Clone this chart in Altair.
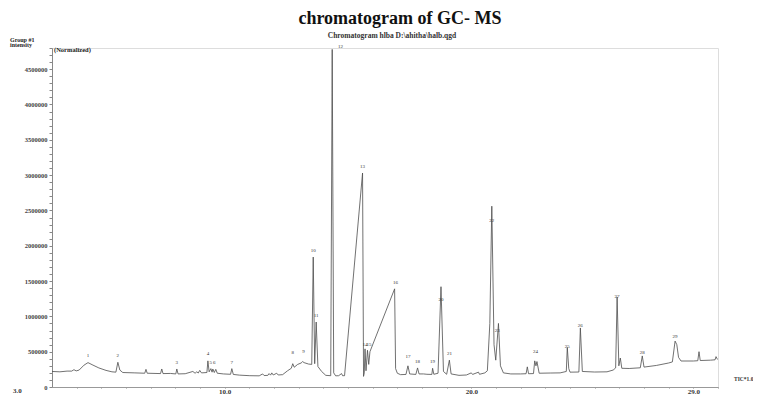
import altair as alt
import pandas as pd

# Retention time (min) and TIC intensity
times = [3.00, 3.32, 3.61, 3.80, 3.89, 3.98, 4.10, 4.30, 4.46, 4.66, 4.90, 5.19, 5.43, 5.59, 5.67, 5.75, 5.87,
         6.36, 6.76, 6.81, 6.86, 7.40, 7.45, 7.50, 7.80, 8.02, 8.06, 8.11, 8.40, 8.71, 8.80, 8.87, 8.93, 8.99,
         9.06, 9.28, 9.32, 9.37, 9.44, 9.49, 9.52, 9.58, 9.64, 9.70, 9.95, 10.24, 10.29, 10.35, 10.60, 11.02,
         11.40, 11.54, 11.60, 11.75, 11.80, 11.86, 11.91, 11.97, 12.11, 12.17, 12.35, 12.55, 12.70, 12.76,
         12.82, 12.96, 13.10, 13.16, 13.22, 13.40, 13.53, 13.59, 13.65, 13.71, 13.78, 13.93, 14.10, 14.30,
         14.36, 14.42, 14.50, 14.62, 14.74, 14.78, 14.86, 15.59, 15.63, 15.66, 15.69, 15.73, 15.79, 15.84,
         15.89, 16.89, 16.93, 17.00, 17.13, 17.35, 17.43, 17.50, 17.75, 17.82, 17.88, 18.06, 18.20, 18.40,
         18.43, 18.48, 18.65, 18.77, 18.87, 19.00, 19.11, 19.18, 19.50, 19.80, 20.00, 20.05, 20.29, 20.33,
         20.55, 20.65, 20.75, 20.83, 20.92, 20.99, 21.10, 21.18, 21.30, 21.60, 22.00, 22.22, 22.27, 22.32,
         22.52, 22.57, 22.62, 22.66, 22.75, 23.20, 23.60, 23.85, 23.89, 23.95, 24.00, 24.36, 24.42, 24.50,
         25.00, 25.50, 25.75, 25.85, 25.91, 25.98, 26.04, 26.10, 26.40, 26.85, 26.93, 27.00, 27.50, 28.00,
         28.15, 28.26, 28.33, 28.40, 28.50, 29.00, 29.18, 29.23, 29.28, 29.70, 29.88, 29.92, 29.98]
intensity = [220000, 215000, 225000, 225000, 245000, 228000, 240000, 310000, 345000, 310000, 270000, 235000,
             215000, 210000, 350000, 240000, 205000, 200000, 195000, 250000, 195000, 190000, 255000, 190000,
             192000, 185000, 255000, 185000, 188000, 220000, 195000, 215000, 198000, 235000, 200000, 205000,
             370000, 215000, 260000, 210000, 255000, 205000, 250000, 195000, 185000, 180000, 260000, 178000,
             168000, 160000, 158000, 185000, 162000, 165000, 190000, 168000, 200000, 170000, 195000, 170000,
             175000, 230000, 265000, 330000, 280000, 320000, 340000, 360000, 345000, 325000, 320000, 1840000,
             330000, 920000, 290000, 220000, 165000, 160000, 4780000, 200000, 158000, 160000, 190000, 160000,
             160000, 3030000, 150000, 200000, 540000, 230000, 520000, 320000, 500000, 1390000, 260000, 195000,
             175000, 178000, 300000, 185000, 178000, 270000, 185000, 185000, 180000, 178000, 265000, 180000,
             195000, 1420000, 220000, 180000, 380000, 185000, 165000, 170000, 200000, 178000, 210000, 180000,
             200000, 230000, 900000, 2560000, 600000, 380000, 900000, 300000, 200000, 185000, 185000, 188000,
             285000, 188000, 190000, 370000, 300000, 360000, 195000, 198000, 200000, 220000, 560000, 260000,
             210000, 212000, 836000, 220000, 212000, 215000, 240000, 270000, 1275000, 300000, 410000, 265000,
             262000, 272000, 440000, 282000, 305000, 340000, 355000, 650000, 600000, 420000, 368000, 368000,
             372000, 500000, 375000, 380000, 385000, 430000, 390000]

# Peak number tags
peak_no = [str(i) for i in range(1, 30)]
peak_t = [4.46, 5.67, 8.06, 9.32, 9.44, 9.58, 10.29, 12.76, 13.20, 13.59, 13.71, 14.70, 15.59, 15.69,
          15.85, 16.93, 17.43, 17.82, 18.43, 18.77, 19.11, 20.83, 21.05, 22.60, 23.89, 24.42, 25.91,
          26.93, 28.26]
peak_y = [370000, 370000, 270000, 400000, 270000, 270000, 270000, 410000, 425000, 1860000, 930000,
          4740000, 3050000, 530000, 530000, 1400000, 354000, 290000, 290000, 1160000, 400000, 2280000,
          720000, 420000, 500000, 800000, 1200000, 410000, 640000]

y_ticks = list(range(0, 4800001, 100000))
x_ticks = list(range(4, 31))

SERIF = "Liberation Serif"

trace = pd.DataFrame({"t": times, "v": intensity})
tags = pd.DataFrame({"t": peak_t, "v": peak_y, "n": peak_no})

xscale = alt.Scale(domain=[3, 30], nice=False)
yscale = alt.Scale(domain=[0, 4800000], nice=False)

x_axis = alt.Axis(values=x_ticks,
                  labelExpr="(datum.value==10||datum.value==20||datum.value==29) ? format(datum.value, '.1f') : ''",
                  labelOverlap=False, labelFont=SERIF, labelFontSize=7, labelFontWeight="bold",
                  labelColor="#333", labelBaseline="top", tickSize=1, tickColor="#888",
                  domainColor="#999", grid=False, labelPadding=-1, labelBound=False, labelFlush=False)
y_axis = alt.Axis(values=y_ticks,
                  labelExpr="datum.value % 500000 == 0 ? format(datum.value, 'd') : ''",
                  labelOverlap=False, labelFont=SERIF, labelFontSize=6.5, labelFontWeight="bold",
                  labelColor="#444", tickSize=3, tickColor="#888", domainColor="#888",
                  grid=False, labelPadding=2, labelBound=False, labelFlush=False)

line = alt.Chart(trace).mark_line(color="#4d4d4d", strokeWidth=0.8, clip=True).encode(
    x=alt.X("t:Q", scale=xscale, title=None, axis=x_axis),
    y=alt.Y("v:Q", scale=yscale, title=None, axis=y_axis),
)

tag_text = alt.Chart(tags).mark_text(font=SERIF, fontSize=5, color="#333", dy=-3, baseline="bottom").encode(
    x=alt.X("t:Q", scale=xscale, title=None, axis=x_axis),
    y=alt.Y("v:Q", scale=yscale, title=None, axis=y_axis),
    text="n:N")

def label(txt, x, y, size, weight="normal", align="left", color="#222"):
    return alt.Chart(pd.DataFrame({"s": [txt]})).mark_text(
        font=SERIF, fontSize=size, fontWeight=weight, align=align, baseline="alphabetic", color=color
    ).encode(x=alt.value(x), y=alt.value(y), text="s:N")

texts = [
    label("chromatogram of GC- MS", 348, -24, 18, "bold", "center", "#111"),
    label("Chromatogram hlba  D:\\ahitha\\halb.qgd", 340, -10, 7.5, "bold", "center", "#333"),
    label("Group #1", -42, -6, 6, "bold"),
    label("intensity", -42, -1, 6, "bold"),
    label("(Normalized)", 2, 4, 6.5, "bold"),
    label("TIC*1.0", 682, 333, 5.5, "bold", "left", "#333"),
    label("3.0", -39, 345, 7, "bold", "left", "#333"),
]

chart = alt.layer(line, tag_text, *texts).properties(
    width=666, height=339,
    autosize=alt.AutoSizeParams(type="none"),
    padding={"left": 44, "top": 40, "right": 35, "bottom": 20},
).configure_view(stroke="#999", strokeWidth=1).configure_axis(labelOverlap=False).configure(background="white")

chart.save("out.html", embed_options={"renderer": "svg", "actions": False})
